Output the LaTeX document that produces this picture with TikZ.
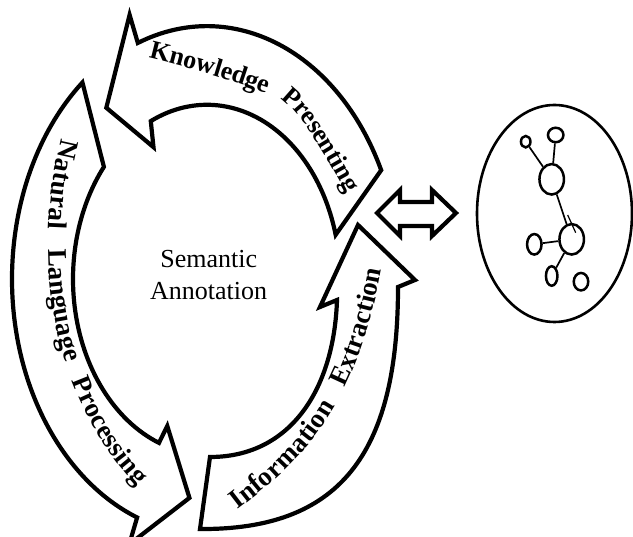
\documentclass[tikz,border=0pt]{standalone}
\usepackage{fontspec}
\setmainfont{Liberation Serif}
\usetikzlibrary{shapes.geometric,decorations.text}
\newcommand\kpfont{\fontsize{26pt}{30pt}\selectfont\bfseries}
\newcommand\arcfont{\fontsize{27pt}{31pt}\selectfont\bfseries}
\begin{document}
\begin{tikzpicture}[x=1pt,y=-1pt,
    ringarrow/.style={draw=black,line width=4.2pt,line join=miter,miter limit=4},
    arctext/.style={decorate,decoration={text along path,text align=left,raise=-6pt,text={#1}}},
    centertext/.style={anchor=base,font=\fontsize{26pt}{32pt}\selectfont},
    gnode/.style={draw,ellipse,line width=2.5pt,inner sep=0pt},
    gedge/.style={line width=1.7pt}]
    \useasboundingbox (0,0) rectangle (633,537);
    % ring of arrows
    \begin{scope}[shift={(207,279)},y=1.31pt]
        \draw[ringarrow] (25.5:193) arc[start angle=25.5,end angle=111,radius=193] -- (111:216) -- (127.6:165) -- (118:114) -- (115:133) arc[start angle=115,end angle=14.7,radius=133] -- cycle;
        \draw[ringarrow] (129.7:195) arc[start angle=129.7,end angle=249,radius=195] -- (249:217) -- (264:168) -- (250.5:119) -- (249:134) arc[start angle=249,end angle=140.3,radius=134] -- cycle;
    \end{scope}
    \draw[ringarrow] (200,529) .. controls (338,530) and (398,456) .. (398,287) -- (415,280) -- (358,225) -- (320,307) -- (337,300) .. controls (334,390) and (290,457) .. (210,457) -- cycle;
    % labels on the arrows
    \path[arctext={|\kpfont|Knowledge{\hspace{17pt}}Presenting}] (150,52) .. controls (200,64) and (250,80) .. (284,94) .. controls (305,107) and (330,150) .. (358,202);
    \path[arctext={|\arcfont|Natural{\hspace{20pt}}Language{\hspace{18pt}}Processing}] (67,140) .. controls (40,250) and (50,400) .. (158,498);
    \path[arctext={|\arcfont|Information{\hspace{20pt}}Extraction}] (234,505) .. controls (300,455) and (355,400) .. (378,255);
    \node[centertext] (sem) at (208.7,268) {Semantic};
    \node[centertext] (ann) at (208.5,300) {Annotation};
    % double arrow
    \draw[ringarrow] (377,213) -- (400,190) -- (400,202) -- (432,202) -- (432,190) -- (456,213) -- (432,236) -- (432,226) -- (400,226) -- (400,236) -- cycle;
    % graph
    \node[draw,ellipse,line width=2.6pt,inner sep=0pt,minimum width=155pt,minimum height=217pt] (graph) at (554.5,213.5) {};
    \node[gnode,minimum width=24.5pt,minimum height=30.5pt] (hubA) at (551.7,179.3) {};
    \node[gnode,minimum width=24.5pt,minimum height=30.5pt] (hubB) at (571.7,239.3) {};
    \node[gnode,minimum width=9.5pt,minimum height=11.5pt] (leafA1) at (525.7,141.7) {};
    \node[gnode,minimum width=15.5pt,minimum height=14.5pt] (leafA2) at (555.7,135) {};
    \node[gnode,minimum width=14.5pt,minimum height=20.5pt] (leafB1) at (534.3,244.3) {};
    \node[gnode,minimum width=11.5pt,minimum height=19.5pt] (leafB2) at (551.7,276) {};
    \node[gnode,minimum width=14.5pt,minimum height=17.5pt] (lone) at (581,281.7) {};
    \draw[gedge] (hubA) -- (leafA1);
    \draw[gedge] (hubA) -- (leafA2);
    \draw[gedge] (hubA) -- (hubB);
    \draw[gedge] (hubB) -- (leafB1);
    \draw[gedge] (hubB) -- (leafB2);
    \draw[line width=1.2pt] (hubB) ++(-4,-24.3) -- ++(8,17.7);
\end{tikzpicture}
\end{document}
